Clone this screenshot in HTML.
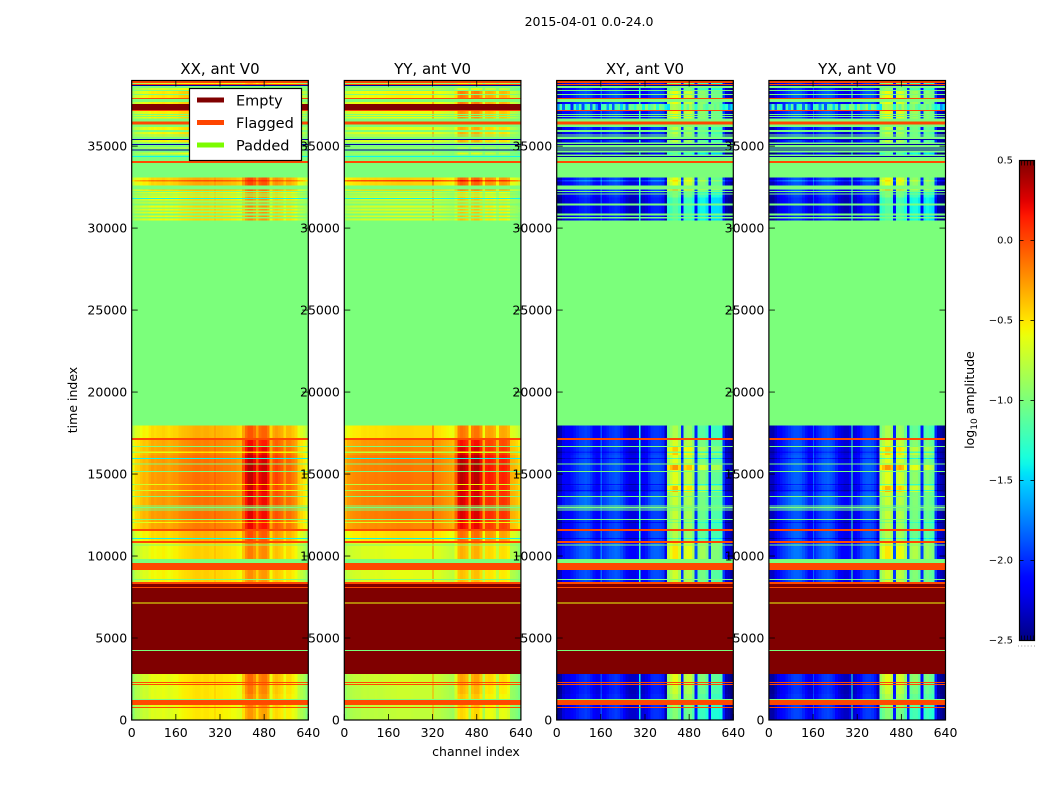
<!DOCTYPE html>
<html lang="en">
<head>
<meta charset="utf-8">
<title>2015-04-01 0.0-24.0</title>
<style>
html,body{margin:0;padding:0;background:#fff;width:1050px;height:800px;overflow:hidden}
svg{display:block}
text{font-family:"DejaVu Sans","Liberation Sans",sans-serif;fill:#000}
</style>
</head>
<body>
<svg id="figure" xmlns="http://www.w3.org/2000/svg" width="1050" height="800" viewBox="0 0 1050 800">
  <defs>
    <linearGradient id="jet-gradient" x1="0" y1="1" x2="0" y2="0"></linearGradient>
  </defs>
  <rect x="0" y="0" width="1050" height="800" fill="#fff"/>
  <text x="589" y="26" font-size="12.5" text-anchor="middle">2015-04-01 0.0-24.0</text>
  <g id="panels"></g>
  <text x="476" y="756" font-size="12.5" text-anchor="middle">channel index</text>
  <text x="77" y="400" font-size="12.5" text-anchor="middle" transform="rotate(-90 77 400)">time index</text>
  <g id="legend">
    <rect x="189.5" y="88.5" width="112" height="72" fill="#fff" stroke="#000" stroke-width="1.2"/>
    <line x1="197" x2="224" y1="100" y2="100" stroke="#800000" stroke-width="5"/>
    <text x="236" y="105.5" font-size="14.5">Empty</text>
    <line x1="197" x2="224" y1="122.5" y2="122.5" stroke="#ff4500" stroke-width="5"/>
    <text x="236" y="128" font-size="14.5">Flagged</text>
    <line x1="197" x2="224" y1="145" y2="145" stroke="#7cfc00" stroke-width="5"/>
    <text x="236" y="150.5" font-size="14.5">Padded</text>
  </g>
  <g id="colorbar">
    <rect x="1019.5" y="160.5" width="15" height="480" fill="url(#jet-gradient)" stroke="#000" stroke-width="1.2"/>
    <text x="974" y="400" font-size="12.5" text-anchor="middle" transform="rotate(-90 974 400)">log<tspan font-size="9" dy="3">10</tspan><tspan dy="-3"> amplitude</tspan></text>
  </g>
</svg>
<script>
// ---- Chart data ----
const panelTitles = ['XX, ant V0', 'YY, ant V0', 'XY, ant V0', 'YX, ant V0'];
const xTicks = [0, 160, 320, 480, 640];
const yTicks = [0, 5000, 10000, 15000, 20000, 25000, 30000, 35000];
const colorbarTicks = [-2.5, -2.0, -1.5, -1.0, -0.5, 0.0, 0.5];
const channelBinWidth = 10;
const rfiFirstChannel = 400;

// log10 amplitude per 10-channel bin (0..630) in the quiet part of the band
const baseXX = [-.58,-.46,-.44,-.38,-.34,-.36,-.3,-.26,-.28,-.26,-.26,-.24,-.26,-.28,-.26,-.24,-.24,-.2,-.18,-.17,-.16,-.15,-.13,-.12,-.12,-.14,-.12,-.12,-.14,-.15,-.15,-.14,-.15,-.17,-.17,-.18,-.2,-.2,-.24,-.27,-.3,-.3,-.3,-.3,-.3,-.3,-.3,-.3,-.3,-.3,-.3,-.3,-.3,-.3,-.3,-.3,-.32,-.32,-.34,-.36,-.4,-.45,-.5,-.6];
const baseYY = [-.32,-.26,-.23,-.21,-.2,-.2,-.18,-.17,-.18,-.17,-.17,-.16,-.17,-.17,-.16,-.15,-.15,-.14,-.14,-.13,-.13,-.13,-.13,-.13,-.14,-.15,-.15,-.15,-.15,-.15,-.15,-.15,-.16,-.17,-.18,-.2,-.22,-.24,-.26,-.28,-.28,-.28,-.28,-.28,-.28,-.28,-.28,-.28,-.28,-.28,-.28,-.28,-.28,-.28,-.28,-.28,-.3,-.3,-.3,-.3,-.32,-.34,-.38,-.44];
const baseXY = [-2.25,-2.2,-2.05,-2.0,-2.0,-1.95,-1.9,-1.85,-1.8,-1.78,-1.75,-1.78,-1.85,-1.95,-2.0,-2.0,-1.95,-1.9,-1.85,-1.8,-1.78,-1.75,-1.78,-1.85,-1.95,-2.05,-2.1,-2.1,-2.1,-2.05,-2.1,-2.05,-2.0,-1.9,-1.8,-1.78,-1.78,-1.8,-1.85,-2.15,-1.95,-1.95,-1.95,-1.95,-1.95,-1.95,-1.95,-1.95,-1.95,-1.95,-1.95,-1.95,-1.95,-1.95,-1.95,-1.95,-1.95,-1.95,-1.95,-1.95,-1.95,-2.15,-2.2,-2.3];
const baseYX = [-2.2,-2.2,-2.1,-2.0,-1.95,-1.9,-1.85,-1.8,-1.75,-1.72,-1.72,-1.75,-1.82,-1.9,-2.0,-2.0,-1.95,-1.88,-1.82,-1.76,-1.74,-1.72,-1.76,-1.82,-1.92,-2.02,-2.08,-2.12,-2.12,-2.05,-2.1,-2.05,-1.98,-1.88,-1.78,-1.75,-1.75,-1.78,-1.85,-2.1,-1.95,-1.95,-1.95,-1.95,-1.95,-1.95,-1.95,-1.95,-1.95,-1.95,-1.95,-1.95,-1.95,-1.95,-1.95,-1.95,-1.95,-1.95,-1.95,-1.95,-1.95,-2.15,-2.22,-2.3];

// extra amplitude of the interference bins (400..600)
const rfiXX = [.25,.45,.55,.55,.45,.25,.45,.5,.5,.4,.05,.24,.28,.24,.2,.05,.2,.2,.16,.12,0];
const rfiYY = [.2,.5,.55,.52,.46,.08,.5,.55,.55,.42,.03,.36,.38,.36,.3,.03,.36,.38,.36,.3,0];
const rfiXY = [1.05,1.15,1.25,1.25,1.1,.1,1.1,1.15,1.15,1,.1,.9,.95,.95,.85,.05,.85,.85,.85,.8,.1];
const rfiYX = [1.05,1.15,1.25,1.25,1.15,.1,1.15,1.2,1.15,1,.1,.95,1,1,.9,.05,.9,.95,.9,.85,.1];

// narrow single-channel interference lines: [channel, extra amplitude]
const spikesXX = [[300, .12]];
const spikesYY = [[319, .45]];
const spikesXY = [[159, .3], [299, .85]];
const spikesYX = [[159, .3], [299, .95]];

// noisy block seen only in the cross-hands
const noisyCross = [-1.7,-1.2,-1.8,-1.15,-1.3,-2.0,-1.2,-1.6,-1.15,-1.9,-1.3,-1.15,-1.8,-1.2,-1.7,-2.0,-1.25,-1.15,-1.65,-1.2,-1.85,-1.2,-1.1,-1.5,-1.15,-1.75,-1.05,-1.1,-1.3,-.95,-1.0,-1.4,-.95,-1.25,-1.1,-.9,-1.35,-1.0,-1.1,-1.4,-1.45,-.85,-.8,-.85,-.9,-1.3,-.9,-1.1,-.85,-1.0,-1.3,-1.0,-.95,-1.1,-1.2,-1.05,-1.0,-1.1,-1.0,-1.2,-1.4,-1.3,-1.7,-1.5];

// time bands: [tStart, tEnd, parallelLevel, parallelRfi, crossLevel, crossRfi]
const lowerDataBands = [
  [0,770,-.38,.8,-.2,.95],[770,914,-.36,.9,-.2,1.05],[1219,1600,-.36,.85,-.22,1.1],
  [1600,2100,-.36,.95,-.25,1.2],[2100,2803,-.34,1,-.22,1.25],[8410,9141,-.3,.7,-.12,1.1],
  [9811,10790,-.3,.8,-.05,1.2],[10910,11535,-.2,.9,-.1,1]
];
const mainDataBands = [
  [11640,12230,-.03,1,-.15,1.05],[12230,12800,0,1,-.15,1.1],[12800,13630,0,1,-.02,1],
  [13630,13900,0,1,-.08,1.05],[13900,14270,0,1.1,-.15,1.4],[14270,15240,0,1.15,-.12,1.15],
  [15240,15540,0,1.2,-.1,1.45],[15540,16150,0,1.15,-.12,1.15],[16150,16640,-.03,1.1,-.15,1.35],
  [16640,17065,-.05,1,-.15,1.15],[17185,17970,-.2,.85,-.18,1.05]
];
const upperDataBands = [
  [30472,31853,-.32,.75,-.25,.85],[31853,32300,-.35,.7,-.2,.95],[32300,32604,-.16,.9,-.08,1.35],
  [32604,33071,-.18,.9,-.15,1.2],[32848,32929,.1,.6,.1,1.1],[33965,35000,-.42,.6,-.32,.9],
  [35000,36300,-.3,.8,-.18,1.1],[36300,37214,-.28,.9,-.12,1.2],[37580,38400,-.25,.95,-.12,1.2],
  [38400,39000,-.42,.6,-.22,1]
];
const dipBands = [
  [16290,16360,-.35,.5,-.25,1],[15920,15985,-.5,.4,-.3,.9],[14330,14395,-.35,.5,-.3,1],
  [13970,14035,-.35,.5,-.3,1],[12000,12065,-.3,.6,-.3,1],[11040,11105,-.4,.4,-.3,.9]
];

// overlay rows: [tStart, tEnd]
const paddedBands = [
  [17970,30472],[30574,30675],[30777,30878],[31385,31487],
  [32056,32117],[32198,32259],[32340,32584],[33071,33965],
  [34087,34330],[34391,34473],[34594,34757],[34798,34858],[34899,35062],[35123,35224],[35387,35590],
  [35650,35711],[35874,35996],[36158,36321],[36503,36686],[36768,36829],[36910,36971],
  [37682,37885],[37925,37946],[38149,38189],[38392,38433],[38535,38656],
  [4215,4275],[9568,9811],[16650,16715],[15590,15650],[15125,15190],[13600,13665],[13030,13095],
  [12910,12975],[12770,12835],[12200,12265],[10635,10700],[8545,8610],[1219,1285]
];
const parallelPaleBands = [[30980,31081],[31162,31243],[31568,31690],[31914,31975]];
const flaggedBands = [
  [38860,39000],[38758,38799],[37885,37925],[37153,37194],[36321,36503],[33965,34087],
  [17065,17185],[11535,11640],[10790,10910],[9141,9568],[8307,8410],[8064,8125],
  [2257,2315],[2150,2210],[914,1219],[740,800]
];
const emptyBands = [[2803,7100],[7165,8064],[8125,8307]];
const parallelEmptyBands = [[37214,37580]];
const crossNoisyBands = [[37214,37580]];
const paleLineBands = [[7100,7165]];
const navyBands = [[38656,38717],[35375,35440],[35062,35123],[34757,34798]];
const crossNavyBands = [[34330,34391],[34858,34899]];
const parallelCyanBands = [[34330,34391],[32563,32610],[31771,31833],[11040,11105],[15920,15985]];

// ---- Value constants for the special states and colour scale ----
const valueMin = -2.5;
const valueMax = 0.5;
const valueEmpty = 0.5;
const valueFlagged = 0;
const valuePadded = -1;

// ---- Layout ----
const panelLeft = [131.7, 344.3, 556.7, 768.9];
const panelWidth = 176.6;
const axisTop = 80.5;
const axisBottom = 720;
const timeMax = 39000;
const channelMax = 640;

const panelBases = [baseXX, baseYY, baseXY, baseYX];
const panelRfi = [rfiXX, rfiYY, rfiXY, rfiYX];
const panelSpikes = [spikesXX, spikesYY, spikesXY, spikesYX];
const panelLevelScale = [1, 1.6, 1, 1];

const SVG_NS = 'http://www.w3.org/2000/svg';

function xScale(p, channel) { return panelLeft[p] + channel / channelMax * panelWidth; }
function yScale(t) { return axisBottom - t / timeMax * (axisBottom - axisTop); }

function interp(stops, f) {
  for (let i = 1; i < stops.length; i++) {
    if (f <= stops[i][0]) {
      const a = stops[i - 1], b = stops[i];
      return a[1] + (b[1] - a[1]) * (f - a[0]) / (b[0] - a[0]);
    }
  }
  return stops[stops.length - 1][1];
}
const jetR = [[0,0],[.35,0],[.66,1],[.89,1],[1,.5]];
const jetG = [[0,0],[.125,0],[.375,1],[.64,1],[.91,0],[1,0]];
const jetB = [[0,.5],[.11,1],[.34,1],[.65,0],[1,0]];
function jetFraction(f) {
  f = Math.max(0, Math.min(1, f));
  const c = [jetR, jetG, jetB].map(s => Math.round(255 * interp(s, f)));
  return 'rgb(' + c[0] + ',' + c[1] + ',' + c[2] + ')';
}
function colorOf(value) { return jetFraction((value - valueMin) / (valueMax - valueMin)); }

function make(tag, attrs, parent) {
  const el = document.createElementNS(SVG_NS, tag);
  for (const k in attrs) el.setAttribute(k, attrs[k]);
  parent.appendChild(el);
  return el;
}

function cellValue(p, bin, band) {
  const isCross = p >= 2;
  const level = isCross ? band[4] : band[2] * panelLevelScale[p];
  const gain = isCross ? band[5] : band[3];
  const rfiIndex = Math.round((bin * channelBinWidth - rfiFirstChannel) / channelBinWidth);
  const rfi = rfiIndex >= 0 && rfiIndex < panelRfi[p].length ? panelRfi[p][rfiIndex] : 0;
  return panelBases[p][bin] + level + rfi * gain;
}

function drawDataBand(g, p, band) {
  const y0 = yScale(band[1]);
  const h = yScale(band[0]) - y0;
  for (let bin = 0; bin < panelBases[p].length; bin++) {
    const x0 = xScale(p, bin * channelBinWidth);
    const x1 = xScale(p, (bin + 1) * channelBinWidth);
    const cell = make('rect', { x: x0, y: y0, width: x1 - x0 + 0.3, height: h, fill: colorOf(cellValue(p, bin, band)) }, g);
    
    
  }
  panelSpikes[p].forEach(function (spike) {
    const bin = Math.floor(spike[0] / channelBinWidth);
    const mark = make('rect', { x: xScale(p, spike[0]), y: y0, width: 1.2, height: h, fill: colorOf(cellValue(p, bin, band) + spike[1]) }, g);
    
    
  });
}

function drawRow(g, p, band, value, name) {
  const y0 = yScale(band[1]);
  const row = make('rect', { x: panelLeft[p], y: y0, width: panelWidth, height: Math.max(1, yScale(band[0]) - y0), fill: colorOf(value) }, g);
  
  
}

function drawNoisy(g, p, band) {
  const y0 = yScale(band[1]);
  const h = yScale(band[0]) - y0;
  noisyCross.forEach(function (v, bin) {
    const x0 = xScale(p, bin * channelBinWidth);
    const cell = make('rect', { x: x0, y: y0, width: xScale(p, (bin + 1) * channelBinWidth) - x0 + 0.3, height: h, fill: colorOf(v) }, g);
    
    
  });
}

const panelsRoot = document.getElementById('panels');

panelTitles.forEach(function (title, p) {
  const panel = make('g', {}, panelsRoot);
  
  

  const image = make('g', { 'shape-rendering': 'crispEdges' }, panel);
  
  

  lowerDataBands.concat(mainDataBands, upperDataBands, dipBands).forEach(function (band) { drawDataBand(image, p, band); });
  if (p >= 2) {
    crossNoisyBands.forEach(function (band) { drawNoisy(image, p, band); });
  } else {
    parallelPaleBands.forEach(function (band) { drawRow(image, p, band, -0.9, 'pale-row'); });
    parallelEmptyBands.forEach(function (band) { drawRow(image, p, band, valueEmpty, 'empty-row'); });
    parallelCyanBands.forEach(function (band) { drawRow(image, p, band, -1.4, 'low-amplitude-row'); });
  }
  emptyBands.forEach(function (band) { drawRow(image, p, band, valueEmpty, 'empty-row'); });
  paleLineBands.forEach(function (band) { drawRow(image, p, band, -0.6, 'pale-row'); });
  paddedBands.forEach(function (band) { drawRow(image, p, band, valuePadded, 'padded-row'); });
  flaggedBands.forEach(function (band) { drawRow(image, p, band, valueFlagged, 'flagged-row'); });
  navyBands.forEach(function (band) { drawRow(image, p, band, -2.4, 'dropout-row'); });
  if (p >= 2) {
    crossNavyBands.forEach(function (band) { drawRow(image, p, band, -2.4, 'dropout-row'); });
  }

  const frame = make('rect', { x: panelLeft[p], y: axisTop, width: panelWidth, height: axisBottom - axisTop, fill: 'none', stroke: '#000', 'stroke-width': 1.2 }, panel);
  
  

  xTicks.forEach(function (tick) {
    const x = xScale(p, tick);
    const low = make('line', { x1: x, x2: x, y1: axisBottom, y2: axisBottom - 6, stroke: '#000', 'stroke-width': 0.8 }, panel);
    
    
    const high = make('line', { x1: x, x2: x, y1: axisTop, y2: axisTop + 6, stroke: '#000', 'stroke-width': 0.8 }, panel);
    
    
    const label = make('text', { x: x, y: 737, 'font-size': 12.5, 'text-anchor': 'middle' }, panel);
    
    
    label.textContent = tick;
  });

  yTicks.forEach(function (tick) {
    const y = yScale(tick);
    const left = make('line', { x1: panelLeft[p], x2: panelLeft[p] + 6, y1: y, y2: y, stroke: '#000', 'stroke-width': 0.8 }, panel);
    
    
    const right = make('line', { x1: panelLeft[p] + panelWidth, x2: panelLeft[p] + panelWidth - 6, y1: y, y2: y, stroke: '#000', 'stroke-width': 0.8 }, panel);
    
    
    const label = make('text', { x: panelLeft[p] - 4.5, y: y + 4.5, 'font-size': 12.5, 'text-anchor': 'end' }, panel);
    
    
    label.textContent = tick;
  });

  const heading = make('text', { x: panelLeft[p] + panelWidth / 2, y: 74, 'font-size': 15, 'text-anchor': 'middle' }, panel);
  
  
  heading.textContent = title;
});

// ---- Colour bar ----
const gradient = document.getElementById('jet-gradient');
for (let i = 0; i <= 60; i++) {
  make('stop', { offset: (i / 60), 'stop-color': jetFraction(i / 60) }, gradient);
}
const colorbar = document.getElementById('colorbar');
const cbTop = 160.5, cbBottom = 640.5, cbLeft = 1019.5, cbRight = 1034.5;
function cbScale(v) { return cbBottom - (v - valueMin) / (valueMax - valueMin) * (cbBottom - cbTop); }

colorbarTicks.forEach(function (tick) {
  const y = cbScale(tick);
  const a = make('line', { x1: cbLeft, x2: cbLeft + 4, y1: y, y2: y, stroke: '#000', 'stroke-width': 0.8 }, colorbar);
  
  
  const b = make('line', { x1: cbRight, x2: cbRight - 4, y1: y, y2: y, stroke: '#000', 'stroke-width': 0.8 }, colorbar);
  
  
  const label = make('text', { x: 1013, y: y + 3, 'font-size': 10, 'text-anchor': 'end' }, colorbar);
  
  
  label.textContent = tick.toFixed(1).replace('-', '\u2212');
});

for (let i = 0; i < 5; i++) {
  const x = cbLeft + 2 + i * 3;
  const top = make('line', { x1: x, x2: x, y1: cbTop, y2: cbTop + 5, stroke: '#000', 'stroke-width': 0.7 }, colorbar);
  
  
  const bottom = make('line', { x1: x, x2: x, y1: cbBottom, y2: cbBottom - 5, stroke: '#000', 'stroke-width': 0.7 }, colorbar);
  
  
}
for (let i = 0; i < 6; i++) {
  const dot = make('rect', { x: 1018 + i * 3.2, y: 645.5, width: 1, height: 1, fill: '#999' }, colorbar);
  
  
}

// Keep the legend above every panel and its tick labels.
const svgRoot = document.getElementById('figure');
svgRoot.appendChild(document.getElementById('legend'));
</script>
</body>
</html>
